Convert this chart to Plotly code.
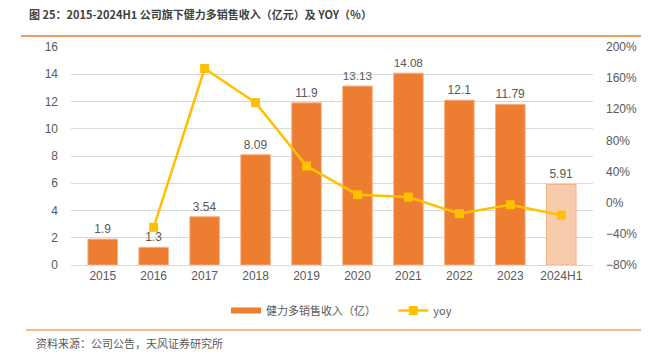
import plotly.graph_objects as go

categories = ["2015", "2016", "2017", "2018", "2019", "2020", "2021", "2022", "2023", "2024H1"]
revenue = [1.9, 1.3, 3.54, 8.09, 11.9, 13.13, 14.08, 12.1, 11.79, 5.91]
yoy = [None, -31.6, 172.3, 128.5, 47.1, 10.3, 7.2, -14.1, -2.6, -16.0]
revenue_labels = ["1.9", "1.3", "3.54", "8.09", "11.9", "13.13", "14.08", "12.1", "11.79", "5.91"]
bar_colors = ["#ED7D31"] * 9 + ["#F8CBAD"]

left_ticks = [0, 2, 4, 6, 8, 10, 12, 14, 16]
right_ticks = [-80, -40, 0, 40, 80, 120, 160, 200]
right_tick_text = ["−80%", "−40%", "0%", "40%", "80%", "120%", "160%", "200%"]

FONT = "Liberation Sans, Arial, sans-serif"
CJK = "Noto Sans CJK SC, sans-serif"

fig = go.Figure()
fig.add_trace(go.Bar(
    x=categories, y=revenue, name="健力多销售收入（亿）", showlegend=False,
    marker=dict(color=bar_colors, line=dict(color="#F4B183", width=1)),
    text=revenue_labels, textposition="outside", cliponaxis=False,
    textfont=dict(color="#595959", size=12, family=FONT),
    width=0.58,
))
# legend-only entry drawn as a wide orange band, like the reference legend key
fig.add_trace(go.Scatter(
    x=[None], y=[None], name="健力多销售收入（亿）" + "\u00a0" * 5, mode="lines",
    line=dict(color="#ED7D31", width=6), hoverinfo="skip",
))
fig.add_trace(go.Scatter(
    x=categories, y=yoy, name="yoy", yaxis="y2", mode="lines+markers",
    line=dict(color="#FFC000", width=2.5),
    marker=dict(symbol="square", size=9, color="#FFC000"),
    connectgaps=False,
))

PT, PB, PL, PR = 47, 265, 71, 593
PW, PH = PR - PL, PB - PT

def px_y(y):
    return (PB - y) / PH

def px_x(x):
    return (x - PL) / PW

fig.update_layout(
    width=654, height=359,
    margin=dict(l=PL, r=654 - PR, t=PT, b=359 - PB, autoexpand=False),
    paper_bgcolor="white", plot_bgcolor="white",
    showlegend=True,
    legend=dict(orientation="h", x=px_x(226), xanchor="left", y=px_y(296), yanchor="top",
                font=dict(family=CJK, size=11, color="#595959"), itemwidth=30,
                traceorder="normal", tracegroupgap=0),
    xaxis=dict(tickfont=dict(family=FONT, size=12, color="#595959"), showgrid=False,
               showline=True, linecolor="#D9D9D9", ticks=""),
    yaxis=dict(range=[0, 16], tickvals=left_ticks, showgrid=True, gridcolor="#D9D9D9",
               gridwidth=1, zeroline=False,
               tickfont=dict(family=FONT, size=12, color="#595959"), ticklabelstandoff=12),
    yaxis2=dict(range=[-80, 200], tickvals=right_ticks, ticktext=right_tick_text,
                overlaying="y", side="right", showgrid=False, zeroline=False,
                tickfont=dict(family=FONT, size=12, color="#595959"), ticklabelstandoff=12),
    annotations=[
        dict(text="<b>图 25：2015-2024H1 公司旗下健力多销售收入（亿元）及 YOY（％）</b>",
             xref="paper", yref="paper", x=px_x(27), y=px_y(14),
             xanchor="left", yanchor="middle", showarrow=False,
             font=dict(family=CJK, size=11, color="#404040")),
        dict(text="资料来源：公司公告，天风证券研究所",
             xref="paper", yref="paper", x=px_x(34), y=px_y(343),
             xanchor="left", yanchor="middle", showarrow=False,
             font=dict(family=CJK, size=11, color="#595959")),
    ],
    shapes=[
        dict(type="line", xref="paper", yref="paper",
             x0=px_x(21), x1=px_x(641), y0=px_y(36), y1=px_y(36),
             line=dict(color="#ED7D31", width=1.5)),
        dict(type="line", xref="paper", yref="paper",
             x0=px_x(26), x1=px_x(641), y0=px_y(330), y1=px_y(330),
             line=dict(color="#F4A460", width=1.5)),
    ],
)

fig.write_html("out.html", config={"displayModeBar": False})

with open("out.html", "r", encoding="utf-8") as f:
    html = f.read()
html = html.replace("<head>", "<head><style>html,body{margin:0;padding:0;overflow:hidden;}</style>", 1)
with open("out.html", "w", encoding="utf-8") as f:
    f.write(html)
